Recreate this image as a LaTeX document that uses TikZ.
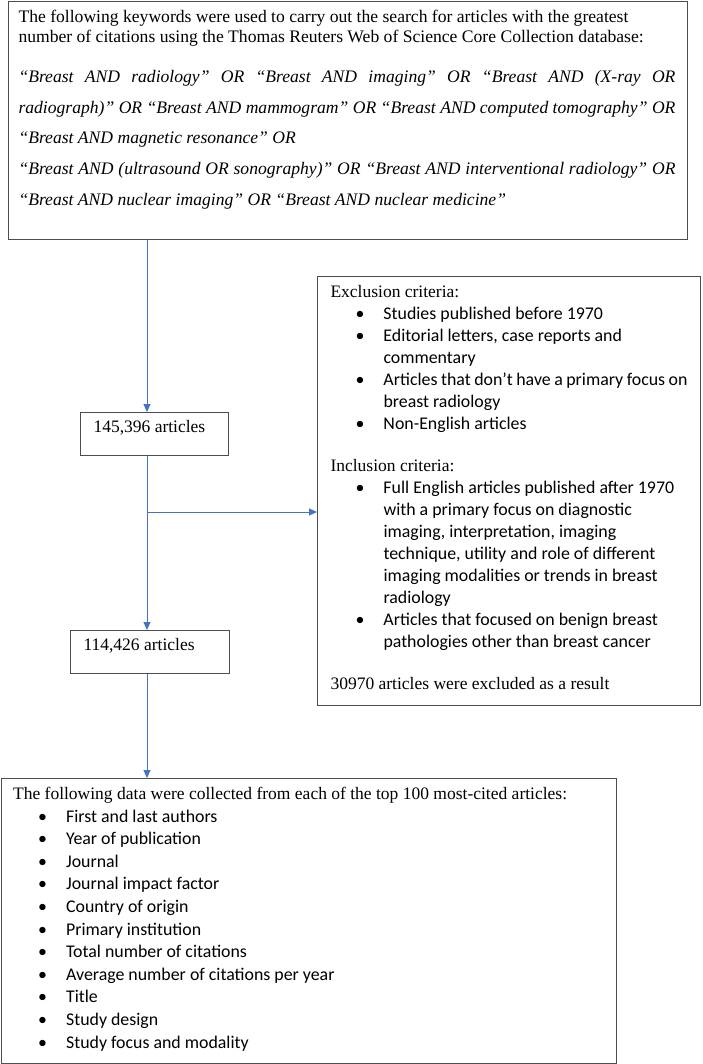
\documentclass[tikz,border=0pt]{standalone}
\usepackage{fontspec}
\setmainfont{Liberation Serif}
\newfontfamily\calibri[Scale=1.02]{Carlito}
\usepackage{xcolor}
\usetikzlibrary{positioning,calc,arrows.meta}

\definecolor{flowblue}{HTML}{4472C4}
\definecolor{framegray}{HTML}{4D4D4D}

% bullet line and its continuation
\newcommand{\critem}[1]{\hspace*{25pt}\makebox[28pt][l]{\calibri •}{\calibri #1}}
\newcommand{\critcont}[1]{\hspace*{53pt}{\calibri #1}}

\begin{document}
\begin{tikzpicture}[x=1pt,y=1pt,
    frame/.style={draw=framegray, line width=1pt, anchor=north west, inner xsep=13pt, inner ysep=0pt},
    flow/.style={draw=flowblue, line width=0.9pt, -{Triangle[length=8pt,width=7pt]}},
    font=\fontsize{17.5}{22}\selectfont]

    \useasboundingbox (0,0) rectangle (702,-1064);

    % Search strategy
    \node[frame, inner xsep=10pt] (search) at (8,-1) {\parbox[c][238pt][t]{659pt}{%
        \fontsize{17.6}{20}\selectfont
        \rule{0pt}{21pt}The following keywords were used to carry out the search for articles with the greatest\\
        number of citations using the Thomas Reuters Web of Science Core Collection database:\par
        \vspace{9.25pt}\itshape\baselineskip=30.75pt
        \makebox[657pt][s]{“Breast AND radiology” OR “Breast AND imaging” OR “Breast AND (X-ray OR}\\
        \makebox[657pt][s]{radiograph)” OR “Breast AND mammogram” OR “Breast AND computed tomography” OR}\\
        “Breast AND magnetic resonance” OR\\
        \makebox[657pt][s]{“Breast AND (ultrasound OR sonography)” OR “Breast AND interventional radiology” OR}\\
        “Breast AND nuclear imaging” OR “Breast AND nuclear medicine”\par}};

    % Counts
    \node[frame] (found) at (80,-412) {\parbox[c][43pt][t]{122pt}{\rule{0pt}{20pt}145,396 articles}};
    \node[frame] (kept) at (70,-630) {\parbox[c][43pt][t]{133pt}{\rule{0pt}{20pt}114,426 articles}};

    % Criteria
    \node[frame] (crit) at (317,-276) {\parbox[c][429pt][t]{357pt}{%
        \rule{0pt}{21pt}Exclusion criteria:\\
        \critem{Studies published before 1970}\\
        \critem{Editorial letters, case reports and}\\
        \critcont{commentary}\\
        \critem{Articles that don’t have a primary focus on}\\
        \critcont{breast radiology}\\
        \critem{Non-English articles}\\[20pt]
        Inclusion criteria:\\
        \critem{Full English articles published after 1970}\\
        \critcont{with a primary focus on diagnostic}\\
        \critcont{imaging, interpretation, imaging}\\
        \critcont{technique, utility and role of different}\\
        \critcont{imaging modalities or trends in breast}\\
        \critcont{radiology}\\
        \critem{Articles that focused on benign breast}\\
        \critcont{pathologies other than breast cancer}\\[20pt]
        30970 articles were excluded as a result\par}};

    % Collected data
    \node[frame, inner xsep=12pt] (summary) at (0.6,-778) {\parbox[c][285pt][t]{591pt}{%
        \baselineskip=22.6pt
        \rule{0pt}{21pt}The following data were collected from each of the top 100 most-cited articles:\\
        \critem{First and last authors}\\
        \critem{Year of publication}\\
        \critem{Journal}\\
        \critem{Journal impact factor}\\
        \critem{Country of origin}\\
        \critem{Primary institution}\\
        \critem{Total number of citations}\\
        \critem{Average number of citations per year}\\
        \critem{Title}\\
        \critem{Study design}\\
        \critem{Study focus and modality}\par}};

    % Flow
    \coordinate (spine) at (147,-512);
    \draw[flow] (search.south -| spine) -- (found.north -| spine);
    \draw[flow] (found.south -| spine) -- (kept.north -| spine);
    \draw[flow] (spine) -- (spine -| crit.west);
    \draw[flow] (kept.south -| spine) -- (summary.north -| spine);
\end{tikzpicture}
\end{document}
